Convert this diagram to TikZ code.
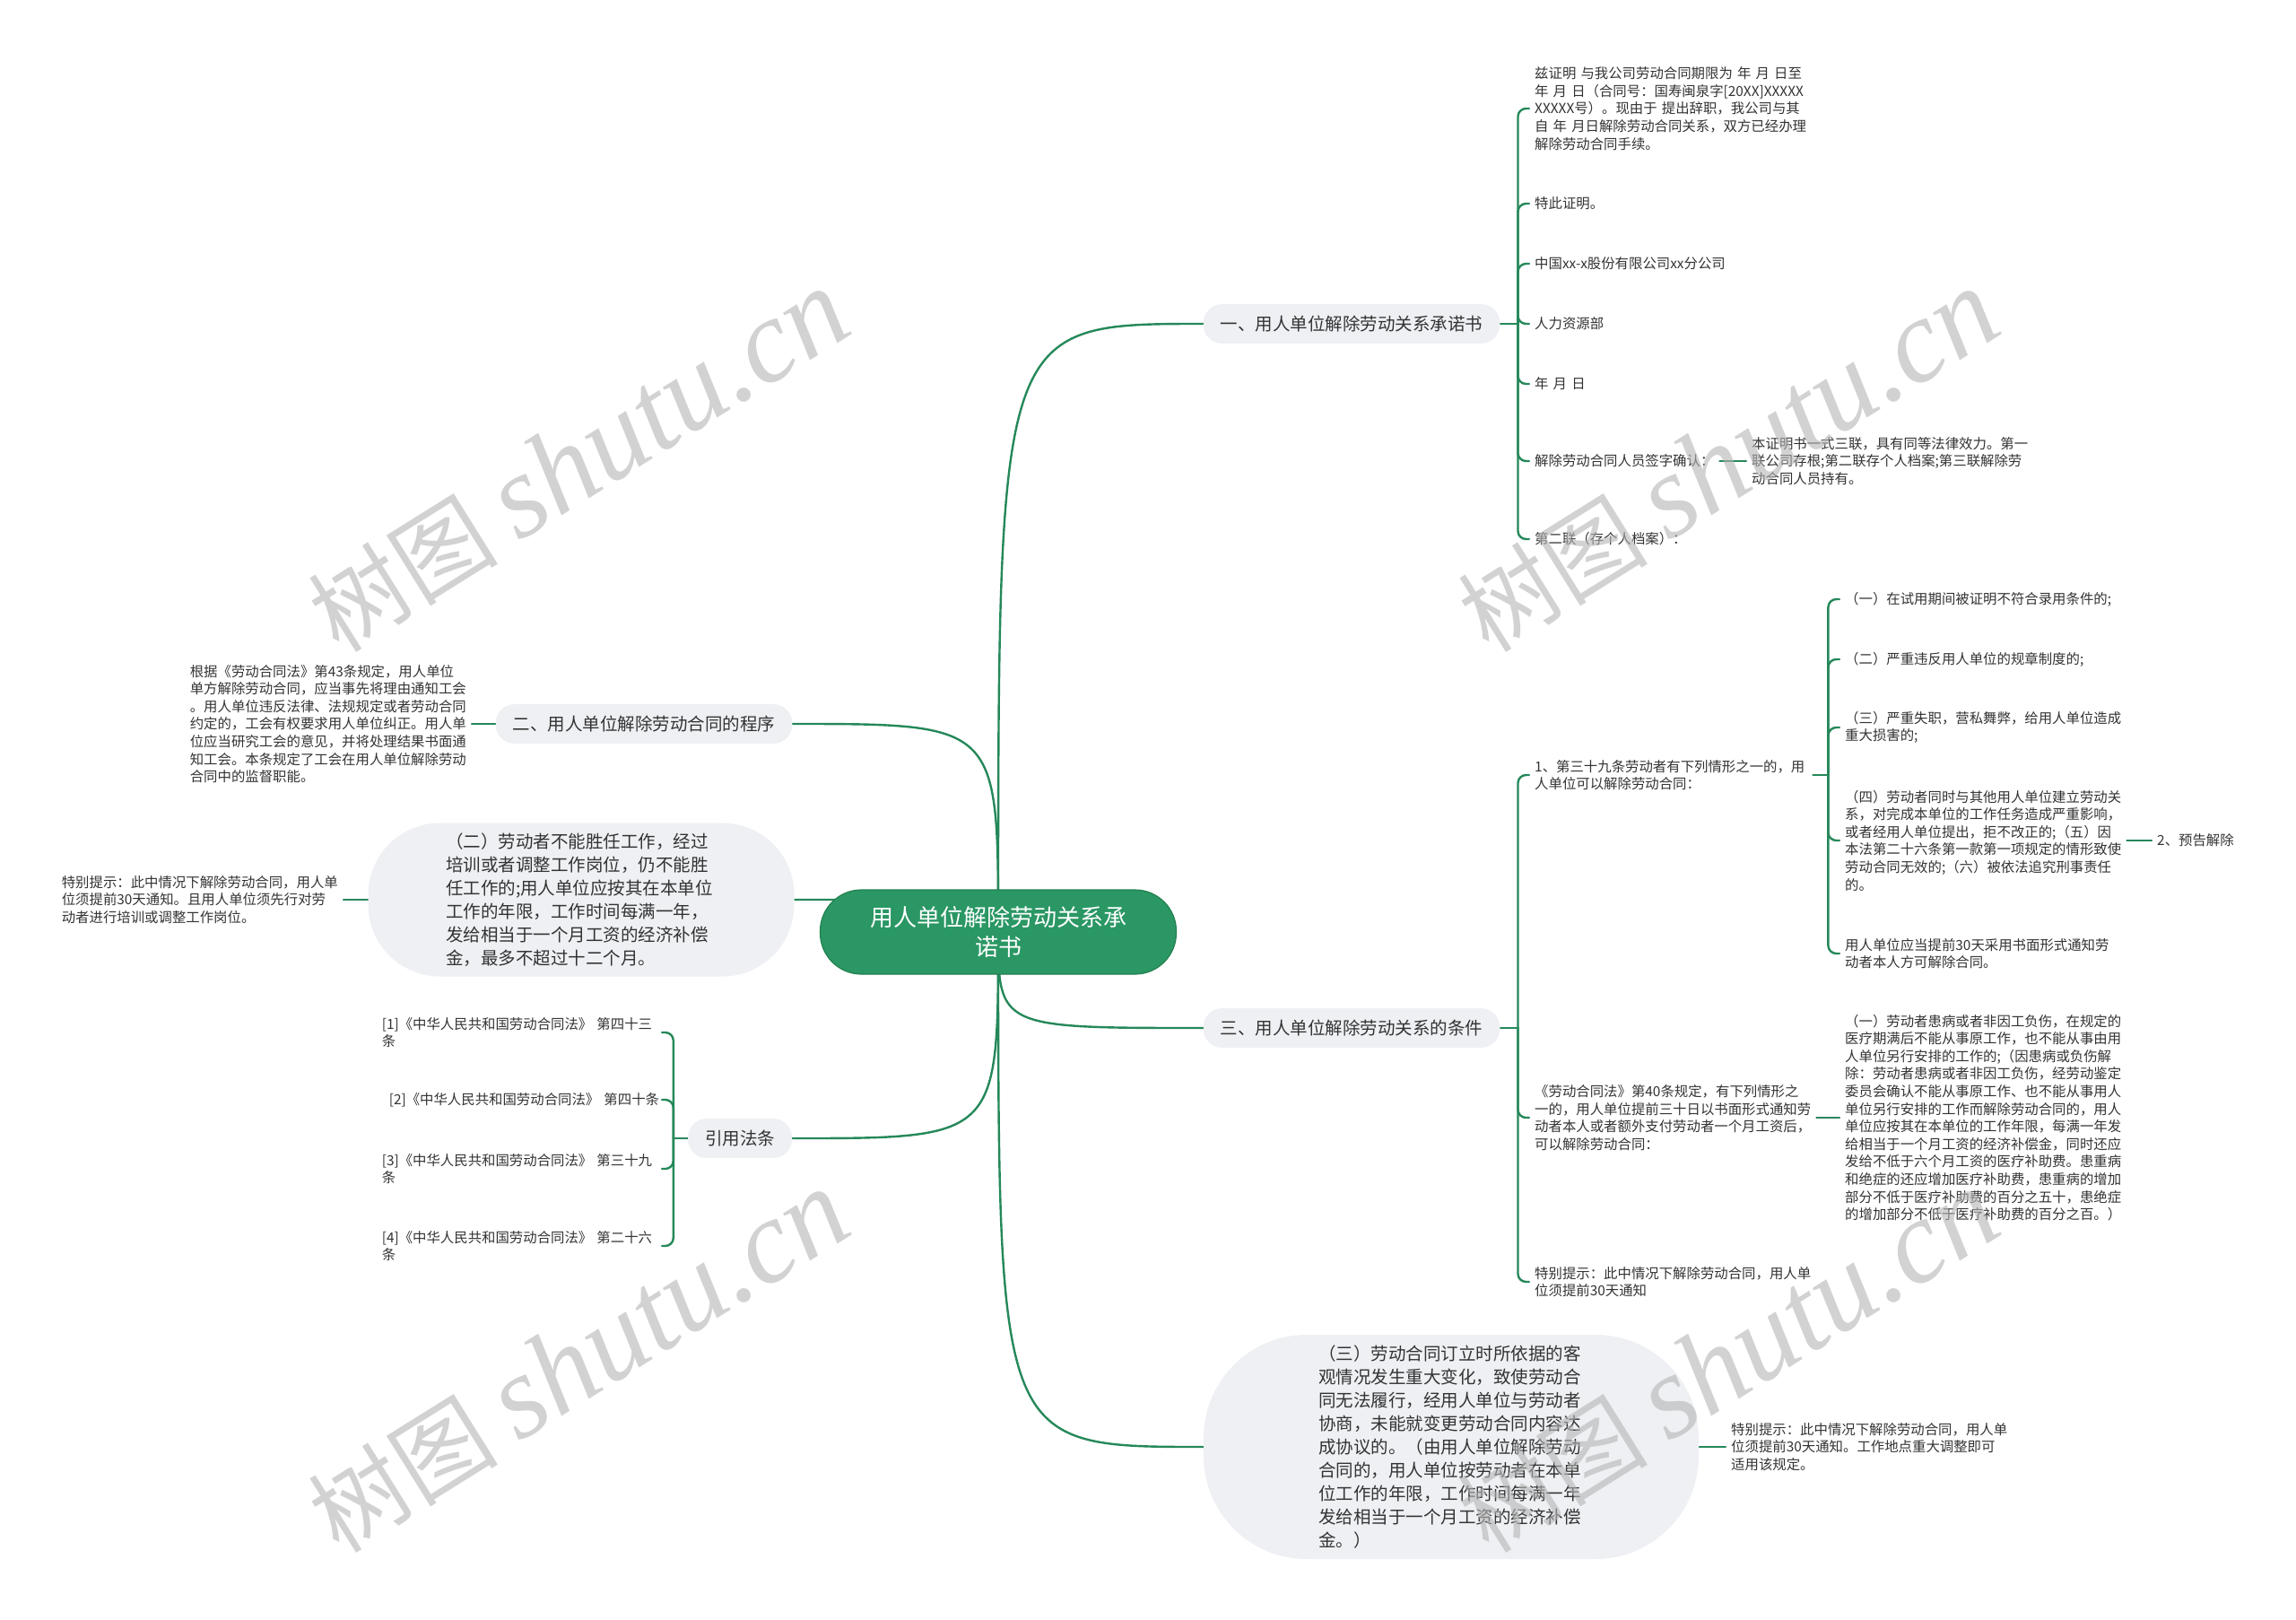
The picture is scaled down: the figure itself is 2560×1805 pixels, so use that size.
\documentclass[tikz,border=0pt]{standalone}
\usepackage{fontspec}
\setmainfont{Noto Sans CJK SC}
\newfontfamily\wmlatin{Liberation Serif}
\usetikzlibrary{calc}
\definecolor{rootc}{HTML}{2A9764}
\definecolor{rootd}{HTML}{23804F}
\definecolor{edgec}{HTML}{25885A}
\definecolor{brc}{HTML}{EEF0F3}
\definecolor{txt}{HTML}{333333}
\definecolor{wmc}{HTML}{B4B4B4}
\pgfdeclarelayer{edgelayer}
\pgfsetlayers{edgelayer,main}
\begin{document}
\begin{tikzpicture}[x=1pt,y=-1pt,
  conn/.style={draw=edgec,line width=2.4pt,line cap=round},
  hookln/.style={conn,rounded corners=9pt},
  rootn/.style={fill=rootc,draw=rootd,line width=1.2pt,text=white,rounded corners=46pt,minimum width=397pt,minimum height=94pt,align=center,inner sep=0pt,font=\fontsize{26}{33}\selectfont},
  br/.style={fill=brc,text=txt,rounded corners=21pt,minimum height=44pt,inner xsep=19pt,inner ysep=0pt,font=\fontsize{19.5}{24}\selectfont},
  bub/.style={fill=brc,text=txt,align=left,inner sep=0pt,font=\fontsize{19.5}{25.9}\selectfont},
  lf/.style={text=txt,align=left,inner xsep=6pt,inner ysep=2pt,font=\fontsize{15.4}{19.6}\selectfont},
  lr/.style={lf,anchor=west},
  ll/.style={lf,anchor=east},
  wm/.style={text=wmc,text opacity=0.6,rotate=32,inner sep=0pt,font=\fontsize{106}{110}\selectfont},
]
\useasboundingbox (0,0) rectangle (2560,1805);

% root and main branches
\node[rootn] (root) at (1113,1039) {用人单位解除劳动关系承\\诺书};
\node[br] (b1) at (1507,361) {一、用人单位解除劳动关系承诺书};
\node[br] (b2) at (718,807) {二、用人单位解除劳动合同的程序};
\node[br] (b3) at (1507,1146) {三、用人单位解除劳动关系的条件};
\node[br] (b4) at (825,1269) {引用法条};
\node[bub,minimum width=475pt,minimum height=171pt,rounded corners=80pt,text width=302pt] (bb2) at (648,1003) {（二）劳动者不能胜任工作，经过\\培训或者调整工作岗位，仍不能胜\\任工作的;用人单位应按其在本单位\\工作的年限，工作时间每满一年，\\发给相当于一个月工资的经济补偿\\金，最多不超过十二个月。};
\node[bub,minimum width=552pt,minimum height=250pt,rounded corners=115pt,text width=296pt] (bb3) at (1618,1613) {（三）劳动合同订立时所依据的客\\观情况发生重大变化，致使劳动合\\同无法履行，经用人单位与劳动者\\协商，未能就变更劳动合同内容达\\成协议的。（由用人单位解除劳动\\合同的，用人单位按劳动者在本单\\位工作的年限，工作时间每满一年\\发给相当于一个月工资的经济补偿\\金。）};

% section one children
\node[lr,text width=320pt] (c11) at (1705,121) {兹证明~与我公司劳动合同期限为~年~月~日至\\年~月~日（合同号：国寿闽泉字[20XX]XXXXX\\XXXXX号）。现由于~提出辞职，我公司与其\\自~年~月日解除劳动合同关系，双方已经办理\\解除劳动合同手续。};
\node[lr,text width=320pt] (c12) at (1705,227) {特此证明。};
\node[lr,text width=320pt] (c13) at (1705,294) {中国xx-x股份有限公司xx分公司};
\node[lr,text width=320pt] (c14) at (1705,361) {人力资源部};
\node[lr,text width=320pt] (c15) at (1705,428) {年~月~日};
\node[lr,text width=200pt] (c16) at (1705,514) {解除劳动合同人员签字确认：};
\node[lr,text width=320pt] (c16a) at (1947,514) {本证明书一式三联，具有同等法律效力。第一\\联公司存根;第二联存个人档案;第三联解除劳\\动合同人员持有。};
\node[lr,text width=320pt] (c17) at (1705,601) {第二联（存个人档案）：};

% section three children
\node[lr,text width=304pt] (c31) at (1705,864) {1、第三十九条劳动者有下列情形之一的，用\\人单位可以解除劳动合同：};
\node[lr,text width=308pt] (c32) at (1705,1246) {《劳动合同法》第40条规定，有下列情形之\\一的，用人单位提前三十日以书面形式通知劳\\动者本人或者额外支付劳动者一个月工资后，\\可以解除劳动合同：};
\node[lr,text width=320pt] (c33) at (1705,1429) {特别提示：此中情况下解除劳动合同，用人单\\位须提前30天通知};
\node[lr,text width=320pt] (d1) at (2051,668) {（一）在试用期间被证明不符合录用条件的;};
\node[lr,text width=320pt] (d2) at (2051,735) {（二）严重违反用人单位的规章制度的;};
\node[lr,text width=320pt] (d3) at (2051,811) {（三）严重失职，营私舞弊，给用人单位造成\\重大损害的;};
\node[lr,text width=308pt] (d4) at (2051,937) {（四）劳动者同时与其他用人单位建立劳动关\\系，对完成本单位的工作任务造成严重影响，\\或者经用人单位提出，拒不改正的;（五）因\\本法第二十六条第一款第一项规定的情形致使\\劳动合同无效的;（六）被依法追究刑事责任\\的。};
\node[lr,text width=120pt] (d4a) at (2399,937) {2、预告解除};
\node[lr,text width=320pt] (d5) at (2051,1063) {用人单位应当提前30天采用书面形式通知劳\\动者本人方可解除合同。};
\node[lr,text width=320pt] (c32a) at (2051,1246) {（一）劳动者患病或者非因工负伤，在规定的\\医疗期满后不能从事原工作，也不能从事由用\\人单位另行安排的工作的;（因患病或负伤解\\除：劳动者患病或者非因工负伤，经劳动鉴定\\委员会确认不能从事原工作、也不能从事用人\\单位另行安排的工作而解除劳动合同的，用人\\单位应按其在本单位的工作年限，每满一年发\\给相当于一个月工资的经济补偿金，同时还应\\发给不低于六个月工资的医疗补助费。患重病\\和绝症的还应增加医疗补助费，患重病的增加\\部分不低于医疗补助费的百分之五十，患绝症\\的增加部分不低于医疗补助费的百分之百。）};
\node[lr,text width=320pt] (tip3) at (1924,1613) {特别提示：此中情况下解除劳动合同，用人单\\位须提前30天通知。工作地点重大调整即可\\适用该规定。};

% left side children
\node[ll,text width=308pt] (e1) at (526,807) {根据《劳动合同法》第43条规定，用人单位\\单方解除劳动合同，应当事先将理由通知工会\\。用人单位违反法律、法规规定或者劳动合同\\约定的，工会有权要求用人单位纠正。用人单\\位应当研究工会的意见，并将处理结果书面通\\知工会。本条规定了工会在用人单位解除劳动\\合同中的监督职能。};
\node[ll,text width=308pt] (tip2) at (383,1003) {特别提示：此中情况下解除劳动合同，用人单\\位须提前30天通知。且用人单位须先行对劳\\动者进行培训或调整工作岗位。};
\node[ll,text width=306pt] (r1) at (738,1151) {[1]《中华人民共和国劳动合同法》~第四十三\\条};
\node[ll,text width=306pt] (r2) at (738,1226) {\hspace*{8pt}[2]《中华人民共和国劳动合同法》~第四十条};
\node[ll,text width=306pt] (r3) at (738,1303) {[3]《中华人民共和国劳动合同法》~第三十九\\条};
\node[ll,text width=306pt] (r4) at (738,1389) {[4]《中华人民共和国劳动合同法》~第二十六\\条};

% junctions
\coordinate (j1) at ([xshift=20pt]b1.east);
\coordinate (j3) at ([xshift=20pt]b3.east);
\coordinate (jA) at ([xshift=17pt]c31.east);
\coordinate (jr) at ([xshift=-16pt]b4.west);

\begin{pgfonlayer}{edgelayer}
\fill[white] (0,0) rectangle (2560,1805);
\draw[conn] (root.center) .. controls (root.center |- b1.west) .. (b1.west);
\draw[conn] (root.center) .. controls (root.center |- b3.west) .. (b3.west);
\draw[conn] (root.center) .. controls (root.center |- bb3.west) .. (bb3.west);
\draw[conn] (root.center) .. controls (root.center |- b2.east) .. (b2.east);
\draw[conn] (root.center) .. controls (root.center |- bb2.east) .. (bb2.east);
\draw[conn] (root.center) .. controls (root.center |- b4.east) .. (b4.east);
\draw[conn] (b1.east) -- (j1);
\foreach \c in {c11,c12,c13,c14,c15,c16,c17} \draw[hookln] (j1) |- (\c.west);
\draw[conn] (b3.east) -- (j3);
\foreach \c in {c31,c32,c33} \draw[hookln] (j3) |- (\c.west);
\draw[conn] (c31.east) -- (jA);
\foreach \c in {d1,d2,d3,d4,d5} \draw[hookln] (jA) |- (\c.west);
\draw[conn] (b4.west) -- (jr);
\foreach \c in {r1,r2,r3,r4} \draw[hookln] (jr) |- (\c.east);
\draw[conn] (c16.east) -- (c16a.west);
\draw[conn] (c32.east) -- (c32a.west);
\draw[conn] (d4.east) -- (d4a.west);
\draw[conn] (bb3.east) -- (tip3.west);
\draw[conn] (b2.west) -- (e1.east);
\draw[conn] (bb2.west) -- (tip2.east);
\end{pgfonlayer}

% watermarks
\node[wm] (w1) at (645,514) {树图~{\wmlatin\itshape\fontsize{132}{136}\selectfont shutu.cn}};
\node[wm] (w2) at (1927,514) {树图~{\wmlatin\itshape\fontsize{132}{136}\selectfont shutu.cn}};
\node[wm] (w3) at (645,1518) {树图~{\wmlatin\itshape\fontsize{132}{136}\selectfont shutu.cn}};
\node[wm] (w4) at (1927,1518) {树图~{\wmlatin\itshape\fontsize{132}{136}\selectfont shutu.cn}};
\end{tikzpicture}
\end{document}
